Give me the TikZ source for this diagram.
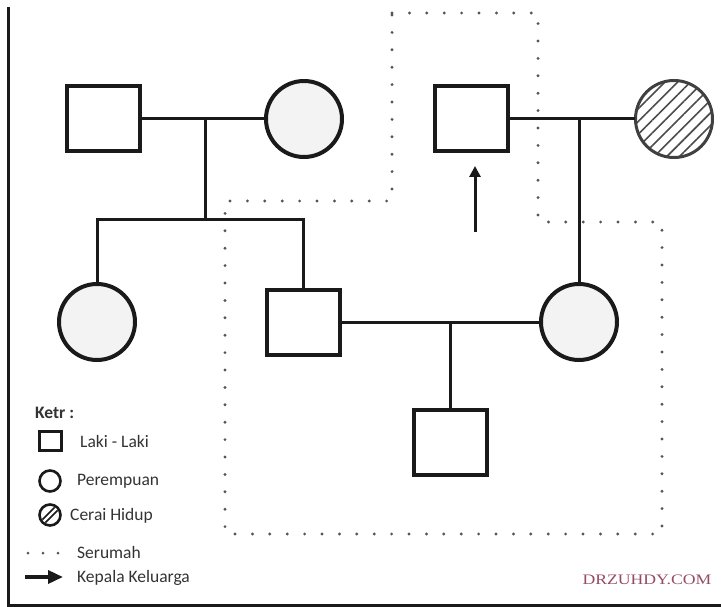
\documentclass[tikz,border=0pt]{standalone}
\usepackage{fontspec}
\setmainfont{Carlito}
\newfontfamily\wmfont{Liberation Serif}
\usetikzlibrary{arrows.meta,patterns.meta,calc}
\definecolor{ink}{HTML}{1A1A1A}
\definecolor{txt}{HTML}{333333}
\definecolor{dotgray}{HTML}{555555}
\definecolor{circfill}{HTML}{F3F3F3}
\definecolor{wm}{RGB}{150,75,100}
\tikzset{
  male/.style={draw=ink, line width=4pt, fill=white, minimum width=73pt, minimum height=65pt, inner sep=0pt},
  female/.style={draw=ink, line width=4pt, fill=circfill, circle, minimum size=76pt, inner sep=0pt},
  divorced/.style={draw=black!75, line width=3pt, circle, minimum size=77pt, inner sep=0pt,
     pattern={Lines[angle=45,distance=9pt,line width=1.6pt]}, pattern color=black!70},
  link/.style={draw=ink, line width=3pt},
  house/.style={draw=dotgray, line width=3.2pt, line cap=round, dash pattern=on 0pt off 17.4pt},
  legtext/.style={font=\fontsize{17.5}{20}\selectfont, text=txt, anchor=west, inner sep=0pt},
  lmale/.style={draw=ink, line width=2.6pt, minimum width=22pt, minimum height=19pt, inner sep=0pt},
  lfemale/.style={draw=ink, line width=2.6pt, circle, minimum size=21pt, inner sep=0pt},
  frame/.style={draw=ink, line width=3pt}
}
\begin{document}
\begin{tikzpicture}[x=1pt,y=-1pt]
\useasboundingbox (0,0) rectangle (721,607);
% frame lines
\coordinate (ftl) at (8,7);
\coordinate (fbl) at (8,605);
\coordinate (fbr) at (721,605);
\draw[frame] (ftl) -- (fbl) -- (fbr);

% household boundary
\draw[house] (392,13) -- (538,13) -- (538,222) -- (662,222) -- (662,534) -- (225,534) -- (225,201) -- (392,201) -- cycle;

% people
\node[male] (gf) at (103,119) {};
\node[female] (gm) at (304,119) {};
\node[male] (head) at (471,119) {};
\node[divorced] (ex) at (674,119) {};
\node[female] (dau) at (97,322) {};
\node[male] (son) at (303,322) {};
\node[female] (wife) at (579,322) {};
\node[male] (child) at (450,442) {};

% connectors
\coordinate (j1) at (205,119);
\coordinate (sib) at (205,220);
\draw[link] (gf.east) -- (gm.west);
\draw[link] (j1) -- (sib);
\draw[link] (dau.north) |- (son.north |- sib) -- (son.north);
\draw[link] (head.east) -- (ex.west);
\draw[link] (wife.north) -- (wife.north |- head);
\draw[link] (son.east) -- (wife.west);
\draw[link] (child.north) -- (child.north |- son);

% head of family arrow
\coordinate (a1) at (475,232);
\coordinate (a2) at (475,166);
\draw[link, -{Triangle[width=11pt,length=11pt]}] (a1) -- (a2);

% legend
\node[legtext, font=\fontsize{17.5}{20}\selectfont\bfseries] (ketr) at (35,413) {Ketr :};
\node[lmale] (lm) at (50.5,441) {};
\node[legtext] (tm) at (80,441) {Laki - Laki};
\node[lfemale] (lf) at (50,481) {};
\node[legtext] (tf) at (77,481) {Perempuan};
\node[lfemale] (ld) at (50,515) {};
\begin{scope}
  \clip (ld.center) circle (9pt);
  \draw[ink, line width=6pt] (ld.south west) -- (ld.north east);
  \draw[white, line width=2.2pt] (ld.south west) -- (ld.north east);
\end{scope}
\node[legtext] (td) at (70,516) {Cerai Hidup};
\coordinate (ls1) at (28,553);
\coordinate (ls2) at (60,553);
\draw[house, dash pattern=on 0pt off 15pt, line width=3pt] (ls1) -- (ls2);
\node[legtext] (ts) at (77,552) {Serumah};
\coordinate (la1) at (25,577);
\coordinate (la2) at (63,577);
\draw[ink, line width=3.5pt, -{Triangle[width=13pt,length=15pt]}] (la1) -- (la2);
\node[legtext] (ta) at (77,578) {Kepala Keluarga};

% watermark
\node[font=\wmfont\fontsize{14.5}{16}\selectfont, text=wm, inner sep=0pt] (wmk) at (647,580) {\scalebox{1.22}[1]{DRZUHDY.COM}};
\end{tikzpicture}
\end{document}
